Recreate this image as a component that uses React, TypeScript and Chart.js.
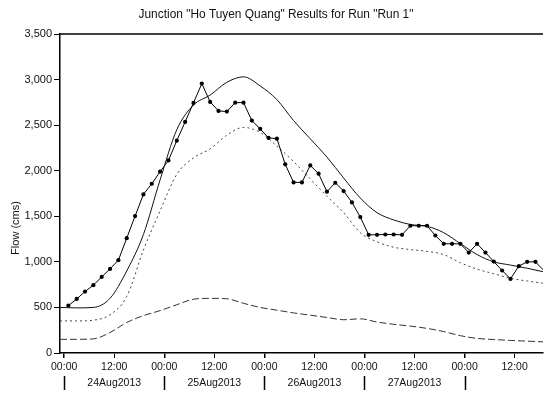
import React, { useEffect, useRef } from "react";
import { Chart, registerables } from "chart.js";

Chart.register(...registerables);

const TITLE = 'Junction "Ho Tuyen Quang" Results for Run "Run 1"';
const Y_TITLE = "Flow (cms)";
const DATE_LABELS = ["24Aug2013", "25Aug2013", "26Aug2013", "27Aug2013"];
const DAY_BOUNDARY_HOURS = [0, 24, 48, 72, 96];
const X_TICK_HOURS = [0, 12, 24, 36, 48, 60, 72, 84, 96, 108];
const X_MIN = -1;
const X_MAX = 114.8;

// hours after 24Aug2013 00:00
const OBS_HOURS = [
  1, 3, 5, 7, 9, 11, 13, 15, 17, 19, 21, 23, 25, 27, 29, 31, 33, 35, 37, 39,
  41, 43, 45, 47, 49, 51, 53, 55, 57, 59, 61, 63, 65, 67, 69, 71, 73, 75, 77,
  79, 81, 83, 85, 87, 89, 91, 93, 95, 97, 99, 101, 103, 105, 107, 109, 111, 113,
  115,
];
const OBS_FLOW = [
  520, 593, 674, 744, 835, 923, 1019, 1260, 1502, 1740, 1857, 1989, 2113, 2330,
  2535, 2744, 2956, 2755, 2656, 2649, 2747, 2747, 2550, 2458, 2360, 2352, 2070,
  1872, 1872, 2058, 1967, 1770, 1868, 1777, 1652, 1491, 1297, 1297, 1300, 1300,
  1297, 1396, 1396, 1396, 1289, 1198, 1198, 1198, 1102, 1198, 1102, 1003, 905,
  813, 953, 1000, 1000, 905,
];

const SIM_HOURS = [
  -1, 3, 7, 11, 15, 19, 23, 27, 31, 35, 39, 43, 47, 51, 55, 59, 63, 67, 71, 75,
  79, 83, 87, 91, 95, 99, 103, 107, 111, 115,
];
const OUTFLOW_SOLID = [
  500, 495, 500, 600, 900, 1300, 1900, 2450, 2720, 2830, 2970, 3030, 2930,
  2780, 2550, 2350, 2150, 1920, 1700, 1540, 1460, 1410, 1390, 1320, 1200, 1080,
  1000, 965, 930, 890,
];
const FLOW_DOTTED = [
  352, 352, 360, 420, 620, 1130, 1560, 1960, 2140, 2240, 2390, 2475, 2420,
  2270, 2100, 1910, 1720, 1540, 1320, 1220, 1160, 1135, 1115, 1080, 990, 920,
  870, 820, 790, 765,
];
const FLOW_DASHED = [
  150, 150, 155, 225, 335, 410, 465, 530, 590, 600, 595, 545, 500, 470, 440,
  415, 390, 365, 375, 340, 315, 295, 270, 235, 190, 160, 148, 138, 130, 122,
];

const FONT = "'Liberation Sans', Arial, sans-serif";

function pts(xs: number[], ys: number[]) {
  return xs.map((x, i) => ({ x, y: ys[i] }));
}

export default function App() {
  const ref = useRef<HTMLCanvasElement | null>(null);

  useEffect(() => {
    if (!ref.current) return;
    const decor = {
      id: "decor",
      afterDraw(chart: any) {
        const { ctx, chartArea } = chart;
        const xs = chart.scales.x;
        ctx.save();
        // top frame line
        ctx.strokeStyle = "#000";
        ctx.lineWidth = 1.5;
        ctx.beginPath();
        ctx.moveTo(chartArea.left, chartArea.top);
        ctx.lineTo(chartArea.right, chartArea.top);
        ctx.stroke();
        // title
        ctx.fillStyle = "#111";
        ctx.font = `11.9px ${FONT}`;
        ctx.textAlign = "center";
        ctx.textBaseline = "middle";
        ctx.fillText(TITLE, 276, 15);
        // y title
        ctx.font = `11px ${FONT}`;
        ctx.save();
        ctx.translate(16, 228);
        ctx.rotate(-Math.PI / 2);
        ctx.fillText(Y_TITLE, 0, 0);
        ctx.restore();
        // date row
        ctx.lineWidth = 1.5;
        DAY_BOUNDARY_HOURS.forEach((h) => {
          const x = Math.round(xs.getPixelForValue(h)) + 0.5;
          ctx.beginPath();
          ctx.moveTo(x, 376);
          ctx.lineTo(x, 390);
          ctx.stroke();
        });
        ctx.font = `10.5px ${FONT}`;
        DATE_LABELS.forEach((lab, i) => {
          const x = xs.getPixelForValue(DAY_BOUNDARY_HOURS[i] + 12);
          ctx.fillText(lab, x, 383);
        });
        ctx.restore();
      },
    };

    const chart = new Chart(ref.current, {
      type: "line",
      data: {
        datasets: [
          {
            label: "Observed",
            data: pts(OBS_HOURS, OBS_FLOW),
            borderColor: "#000",
            borderWidth: 1,
            pointRadius: (c: any) => (c.raw && c.raw.x > X_MAX ? 0 : 2.1),
            pointBackgroundColor: "#000",
            pointBorderColor: "#000",
            pointBorderWidth: 0,
            tension: 0,
          },
          {
            label: "Outflow",
            data: pts(SIM_HOURS, OUTFLOW_SOLID),
            borderColor: "#111",
            borderWidth: 1,
            pointRadius: 0,
            cubicInterpolationMode: "monotone",
          },
          {
            label: "Inflow",
            data: pts(SIM_HOURS, FLOW_DOTTED),
            borderColor: "#444",
            borderWidth: 1,
            borderDash: [2, 3],
            pointRadius: 0,
            cubicInterpolationMode: "monotone",
          },
          {
            label: "Local",
            data: pts(SIM_HOURS, FLOW_DASHED),
            borderColor: "#333",
            borderWidth: 1,
            borderDash: [7, 3],
            pointRadius: 0,
            cubicInterpolationMode: "monotone",
          },
        ],
      } as any,
      options: {
        animation: false,
        responsive: false,
        events: [],
        layout: { padding: { top: 34, left: 0, right: 0, bottom: 0 } },
        plugins: {
          legend: { display: false },
          title: { display: false },
          tooltip: { enabled: false },
        },
        scales: {
          x: {
            type: "linear",
            min: X_MIN,
            max: X_MAX,
            afterBuildTicks: (s: any) => {
              s.ticks = X_TICK_HOURS.map((v) => ({ value: v }));
            },
            afterFit: (s: any) => {
              s.height = 42;
            },
            ticks: {
              callback: (v: any) => (Number(v) % 24 === 0 ? "00:00" : "12:00"),
              font: { family: FONT, size: 10.5 },
              color: "#111",
              maxRotation: 0,
              autoSkip: false,
              padding: 3,
            },
            grid: {
              drawOnChartArea: false,
              drawTicks: true,
              tickLength: 5,
              color: "#000",
              lineWidth: (c: any) =>
                c.tick && Number(c.tick.value) % 24 === 0 ? 1.5 : 1,
            },
            border: { display: true, color: "#000", width: 1.5 },
          },
          y: {
            min: 0,
            max: 3500,
            afterFit: (s: any) => {
              s.width = 60;
            },
            ticks: {
              stepSize: 500,
              callback: (v: any) => Number(v).toLocaleString("en-US"),
              font: { family: FONT, size: 11 },
              color: "#111",
              padding: 2,
            },
            grid: {
              drawOnChartArea: false,
              drawTicks: true,
              tickLength: 6,
              color: "#000",
            },
            border: { display: true, color: "#000", width: 1.5 },
          },
        },
      } as any,
      plugins: [decor],
    });
    return () => chart.destroy();
  }, []);

  return (
    <div style={{ position: "absolute", left: 0, top: 0, width: 547, height: 395, background: "#fff" }}>
      <canvas ref={ref} width={547} height={395} style={{ width: 547, height: 395, display: "block" }} />
    </div>
  );
}
